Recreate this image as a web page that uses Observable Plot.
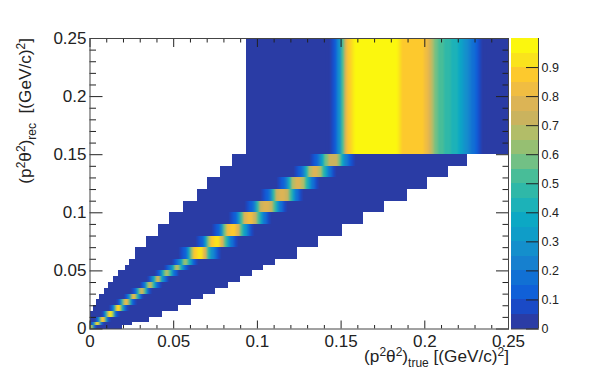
<!DOCTYPE html>
<html><head><meta charset="utf-8">
<script src="https://cdn.jsdelivr.net/npm/d3@7"></script>
<script src="https://cdn.jsdelivr.net/npm/@observablehq/plot@0.6"></script>
<style>
html,body{margin:0;padding:0;background:#fff}
#c{position:relative;width:598px;height:387px}
#c svg{position:absolute;left:0;top:0;background:transparent}
</style></head><body><div id="c"></div>
<script>
const rowLow  = [0,.003,.006,.01,.015,.02,.025,.03,.035,.04,.045,.05,.055,.06,.07,.08,.09,.1,.11,.12,.13,.14,.15];
const rowHigh = [.003,.006,.01,.015,.02,.025,.03,.035,.04,.045,.05,.055,.06,.07,.08,.09,.1,.11,.12,.13,.14,.15,.25];
const rowLeft = [0,0,0,0,.0019,.0037,.0059,.0087,.0112,.0139,.0168,.0212,.0236,.0272,.0336,.0407,.0477,.0557,.064,.07,.078,.0853,.0935];
const rowRight= [.0192,.0252,.0355,.0431,.053,.0606,.068,.075,.083,.0899,.0969,.1038,.1108,.1238,.1367,.1507,.1636,.176,.1895,.2014,.2144,.2253,.25];
const peakStart=[0,.001,.004,.0075,.012,.0165,.021,.0255,.0305,.035,.04,.0452,.05,.0541,.0642,.0738,.0839,.0935,.103,.1126,.1227,.1323,.142];
const peakStep =[.001,.001,.001,.001,.001,.001,.001,.001,.001,.001,.001,.001,.001,.002,.002,.002,.002,.002,.002,.002,.002,.002,.002];
const peakValues=[
 [.92,.6,.2,.08],
 [.1,.3,.75,.9,.65,.3,.1],
 [.1,.3,.65,.87,.82,.5,.22,.08],
 [.08,.15,.4,.78,.95,.92,.62,.3,.14,.06],
 [.07,.14,.3,.62,.87,.9,.78,.45,.22,.1,.05],
 [.07,.14,.28,.55,.78,.84,.72,.45,.24,.12,.06],
 [.07,.14,.26,.48,.72,.8,.74,.5,.28,.16,.07],
 [.07,.13,.24,.44,.66,.76,.7,.5,.3,.17,.08],
 [.06,.12,.22,.4,.62,.73,.7,.5,.32,.18,.1,.05],
 [.06,.12,.2,.36,.58,.7,.7,.54,.34,.2,.12,.06],
 [.06,.1,.18,.3,.5,.66,.68,.58,.4,.26,.16,.1,.05],
 [.06,.1,.16,.24,.38,.55,.65,.66,.58,.42,.28,.18,.1,.06],
 [.06,.1,.15,.2,.32,.48,.6,.62,.58,.42,.3,.18,.12,.06],
 [.07,.14,.3,.62,.86,.93,.92,.75,.48,.28,.16,.07],
 [.07,.14,.3,.6,.86,.93,.92,.78,.5,.3,.17,.07],
 [.07,.13,.26,.55,.8,.89,.88,.78,.5,.3,.16,.07],
 [.07,.13,.26,.52,.76,.83,.83,.74,.5,.3,.16,.07],
 [.07,.13,.24,.48,.72,.78,.78,.72,.5,.3,.17,.08],
 [.07,.13,.24,.46,.7,.77,.76,.7,.5,.3,.17,.08],
 [.07,.13,.22,.42,.68,.76,.75,.68,.48,.3,.17,.08],
 [.07,.13,.22,.4,.66,.76,.76,.68,.46,.3,.17,.08],
 [.06,.12,.2,.35,.55,.72,.74,.72,.55,.38,.24,.12,.06],
 [.04,.08,.13,.27,.5,.75,.85,.92,.97,.97,.97,.97,.97,.97,.97,.97,.97,.97,.97,.97,.95,.91,.87,.88,.86,.88,.86,.87,.86,.84,.78,.68,.58,.53,.5,.47,.45,.42,.4,.37,.34,.29,.23,.19,.13,.09,.04]
];
const levels=[0,.05,.1,.15,.2,.25,.3,.35,.4,.45,.5,.55,.6,.65,.7,.75,.8,.85,.9,.95];
const levelTop=[.05,.1,.15,.2,.25,.3,.35,.4,.45,.5,.55,.6,.65,.7,.75,.8,.85,.9,.95,1];
const palette=["#2a3ca5","#1a4ac6","#1060d8","#1170d4","#1680cf","#148fcc","#0f9dc8","#0ca8c4","#1cb2b8","#2fb8a8","#48bd98","#72c085","#96bf72","#b2bd68","#cab35e","#dcb455","#f0bd42","#fdc92d","#fae31c","#fbf70e"];
const majorX=[0,.05,.1,.15,.2,.25];
const minorX=[.01,.02,.03,.04,.06,.07,.08,.09,.11,.12,.13,.14,.16,.17,.18,.19,.21,.22,.23,.24];
const zTicks=[0,.1,.2,.3,.4,.5,.6,.7,.8,.9];

const W=598,H=387,L=89.5,R=90,T=38,B=58.5;
const bg=rowLow.map((y,i)=>({x1:rowLeft[i],x2:rowRight[i],y1:y,y2:rowHigh[i],v:0}));
const cells=peakValues.flatMap((vals,i)=>vals.map((v,j)=>({
  x1:peakStart[i]+j*peakStep[i],x2:peakStart[i]+(j+1)*peakStep[i],y1:rowLow[i],y2:rowHigh[i],v})));
const colorOpt={type:"threshold",domain:levels.slice(1),range:palette};
const ink="#222",tc={stroke:ink,strokeWidth:1};
const tickAxes=(ticks,sx,sy)=>[
  Plot.axisX({ticks,anchor:"bottom",tickSize:-sx,tickFormat:()=>"",label:null,...tc}),
  Plot.axisX({ticks,anchor:"top",tickSize:-sx,tickFormat:()=>"",label:null,...tc}),
  Plot.axisY({ticks,anchor:"left",tickSize:-sy,tickFormat:()=>"",label:null,...tc}),
  Plot.axisY({ticks,anchor:"right",tickSize:-sy,tickFormat:()=>"",label:null,...tc})
];
const main=Plot.plot({
  width:W,height:H,marginLeft:L,marginRight:R,marginTop:T,marginBottom:B,
  style:{fontFamily:"'Liberation Sans',Arial,sans-serif",background:"transparent",color:"#222"},
  x:{domain:[0,.25],label:null,axis:null},
  y:{domain:[0,.25],label:null,axis:null},
  color:colorOpt,
  marks:[
    Plot.rect(bg,{x1:"x1",x2:"x2",y1:"y1",y2:"y2",fill:"v",inset:0,shapeRendering:"crispEdges"}),
    Plot.rect(cells,{x1:"x1",x2:"x2",y1:"y1",y2:"y2",fill:"v",inset:0,shapeRendering:"crispEdges"}),
    ...tickAxes(minorX,3.5,6.5),
    ...tickAxes(majorX,8,13),
    Plot.axisX({ticks:majorX,anchor:"bottom",tickSize:0,tickPadding:6,fontSize:17,tickFormat:d=>String(d),label:null}),
    Plot.axisY({ticks:majorX,anchor:"left",tickSize:0,tickPadding:3.5,fontSize:17,tickFormat:d=>String(d),label:null}),
    Plot.frame({stroke:"#444",strokeWidth:1})
  ]
});
const svg=d3.select(main);
svg.append("defs").append("filter").attr("id","hblur").attr("color-interpolation-filters","sRGB")
  .attr("filterUnits","userSpaceOnUse").attr("x",0).attr("y",0).attr("width",W).attr("height",H)
  .append("feGaussianBlur").attr("stdDeviation","1.3 0");
const rectGroups=main.querySelectorAll('g[aria-label="rect"]');
rectGroups[1].setAttribute("filter","url(#hblur)");
function title(parts,attrs){
  const t=svg.append("text").attr("font-size",17.2).attr("fill","#222");
  Object.entries(attrs).forEach(([k,v])=>t.attr(k,v));
  parts.forEach(([s,dy,fs])=>{const p=t.append("tspan").text(s).attr("dy",dy);if(fs)p.attr("font-size",fs);});
}
title([["(p",0],["2",-6,12],["θ",6],["2",-6,12],[")",6],["true",5,12],[" [(GeV/c)",-5],["2",-6,12],["]",6]],
  {"text-anchor":"end",x:509,y:362});
title([["(p",0],["2",-6,12],["θ",6],["2",-6,12],[")",6],["rec",5,12],["  [(GeV/c)",-5],["2",-6,12],["]",6]],
  {"text-anchor":"end",transform:"translate(31,38) rotate(-90)","xml:space":"preserve"});

const bar=Plot.plot({
  width:W,height:H,marginLeft:511,marginRight:60,marginTop:T,marginBottom:B,
  style:{fontFamily:"'Liberation Sans',Arial,sans-serif",background:"transparent",color:"#222"},
  x:{domain:[0,1],axis:null,label:null},
  y:{domain:[0,1],axis:null,label:null},
  color:colorOpt,
  marks:[
    Plot.rect(levels,{x1:()=>0,x2:()=>1,y1:d=>d,y2:(d,i)=>levelTop[i],fill:d=>d,inset:0,shapeRendering:"crispEdges"}),
    Plot.axisY({ticks:zTicks,anchor:"right",tickSize:-13,tickFormat:()=>"",label:null,...tc}),
    Plot.axisY({ticks:zTicks,anchor:"right",tickSize:0,tickPadding:3,fontSize:12.5,tickFormat:d=>String(d),label:null}),
    Plot.ruleX([1],{stroke:"#444"}),
    Plot.ruleY([0],{stroke:"#444"})
  ]
});
document.getElementById("c").append(main,bar);
</script></body></html>
